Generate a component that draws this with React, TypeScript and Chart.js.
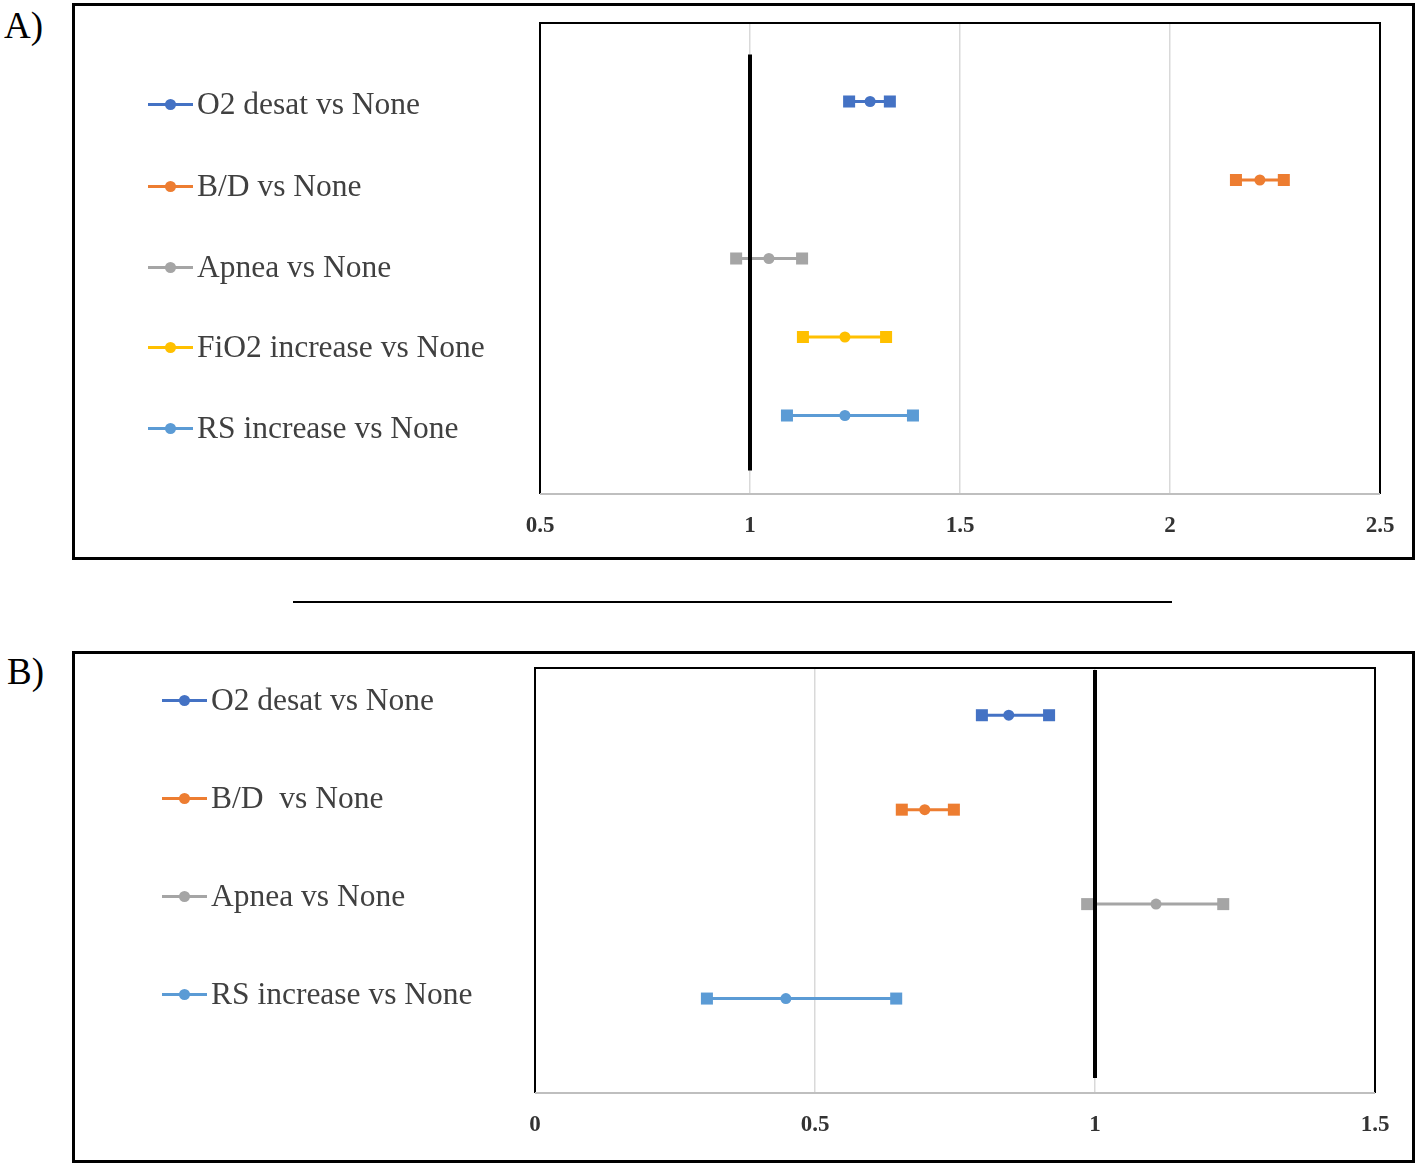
import React, { useEffect, useRef } from "react";
import { Chart, registerables } from "chart.js";
Chart.register(...registerables);

// ---------- Panel A data ----------
const seriesA = ["O2 desat vs None", "B/D vs None", "Apnea vs None", "FiO2 increase vs None", "RS increase vs None"];
const colorsA = ["#4472C4", "#ED7D31", "#A5A5A5", "#FFC000", "#5B9BD5"];
const lowA = [1.236, 2.157, 0.967, 1.126, 1.088];
const estA = [1.286, 2.214, 1.045, 1.226, 1.226];
const highA = [1.333, 2.271, 1.124, 1.324, 1.388];
const rowA = [5, 4, 3, 2, 1];
const ticksA = [0.5, 1, 1.5, 2, 2.5];
const refLineA = [0.3, 5.6];

// ---------- Panel B data ----------
const seriesB = ["O2 desat vs None", "B/D  vs None", "Apnea vs None", "RS increase vs None"];
const colorsB = ["#4472C4", "#ED7D31", "#A5A5A5", "#5B9BD5"];
const lowB = [0.798, 0.655, 0.986, 0.307];
const estB = [0.846, 0.696, 1.109, 0.448];
const highB = [0.918, 0.748, 1.229, 0.645];
const rowB = [4, 3, 2, 1];
const ticksB = [0, 0.5, 1, 1.5];
const refLineB = [0.16, 4.48];

const framePlugin = {
  id: "frame",
  afterDraw(chart: any) {
    const { ctx, chartArea: a } = chart;
    ctx.save();
    ctx.lineWidth = 2;
    ctx.strokeStyle = "#000";
    ctx.beginPath();
    ctx.moveTo(a.left, a.bottom);
    ctx.lineTo(a.left, a.top);
    ctx.lineTo(a.right, a.top);
    ctx.lineTo(a.right, a.bottom);
    ctx.stroke();
    ctx.strokeStyle = "#bfbfbf";
    ctx.beginPath();
    ctx.moveTo(a.left, a.bottom);
    ctx.lineTo(a.right, a.bottom);
    ctx.stroke();
    ctx.restore();
  },
};

type PanelProps = {
  left: number;
  top: number;
  width: number;
  height: number;
  padding: { left: number; right: number; top: number; bottom: number };
  series: string[];
  colors: string[];
  low: number[];
  est: number[];
  high: number[];
  rows: number[];
  ticks: number[];
  refLine: number[];
  yMax: number;
};

function Panel(p: PanelProps) {
  const ref = useRef<HTMLCanvasElement | null>(null);
  useEffect(() => {
    if (!ref.current) return;
    const datasets: any[] = [
      {
        label: "ref",
        data: [
          { x: 1, y: p.refLine[0] },
          { x: 1, y: p.refLine[1] },
        ],
        showLine: true,
        borderColor: "#000",
        borderWidth: 4,
        pointRadius: 0,
      },
    ];
    p.series.forEach((s, i) => {
      datasets.push({
        label: s,
        data: [
          { x: p.low[i], y: p.rows[i] },
          { x: p.est[i], y: p.rows[i] },
          { x: p.high[i], y: p.rows[i] },
        ],
        showLine: true,
        borderColor: p.colors[i],
        backgroundColor: p.colors[i],
        borderWidth: 3,
        pointStyle: ["rect", "circle", "rect"],
        pointRadius: [8.5, 5.5, 8.5],
        pointBorderWidth: 0,
      });
    });
    const chart = new Chart(ref.current, {
      type: "scatter",
      data: { datasets },
      plugins: [framePlugin],
      options: {
        animation: false,
        responsive: false,
        layout: { padding: p.padding },
        plugins: { legend: { display: false }, tooltip: { enabled: false } },
        scales: {
          x: {
            type: "linear",
            min: p.ticks[0],
            max: p.ticks[p.ticks.length - 1],
            afterBuildTicks: (scale: any) => {
              scale.ticks = p.ticks.map((v) => ({ value: v }));
            },
            afterFit: (scale: any) => {
              scale.height = 40;
            },
            grid: { color: "#d9d9d9", lineWidth: 1.5, drawTicks: false },
            border: { display: false },
            ticks: {
              padding: 18,
              color: "#333",
              font: { family: "'Liberation Serif', 'Times New Roman', serif", size: 23, weight: "bold" },
              callback: (v: any) => String(v),
            },
          },
          y: {
            type: "linear",
            min: 0,
            max: p.yMax,
            display: false,
          },
        },
      } as any,
    });
    return () => chart.destroy();
  }, []);
  return (
    <canvas
      ref={ref}
      width={p.width}
      height={p.height}
      style={{ position: "absolute", left: p.left, top: p.top, width: p.width, height: p.height }}
    />
  );
}

function Legend({ items, colors, left, ys }: { items: string[]; colors: string[]; left: number; ys: number[] }) {
  return (
    <>
      {items.map((t, i) => (
        <div
          key={i}
          style={{
            position: "absolute",
            left,
            top: ys[i] - 20,
            height: 40,
            display: "flex",
            alignItems: "center",
            whiteSpace: "pre",
            fontFamily: "'Liberation Serif', 'Times New Roman', serif",
            fontSize: 31.5,
            color: "#404040",
          }}
        >
          <div style={{ position: "relative", width: 45, height: 3, background: colors[i], marginRight: 4 }}>
            <div
              style={{
                position: "absolute",
                left: 17,
                top: -4,
                width: 11,
                height: 11,
                borderRadius: "50%",
                background: colors[i],
              }}
            />
          </div>
          <span>{t}</span>
        </div>
      ))}
    </>
  );
}

export default function App() {
  const serif = "'Liberation Serif', 'Times New Roman', serif";
  return (
    <div style={{ position: "absolute", left: 0, top: 0, width: 1418, height: 1166, background: "#fff", overflow: "hidden" }}>
      <div style={{ position: "absolute", left: 4, top: 4, fontFamily: serif, fontSize: 37, color: "#000", lineHeight: "44px" }}>A)</div>
      <div style={{ position: "absolute", left: 7, top: 650, fontFamily: serif, fontSize: 37, color: "#000", lineHeight: "44px" }}>B)</div>
      <div style={{ position: "absolute", left: 72, top: 3, width: 1337, height: 551, border: "3px solid #000" }} />
      <div style={{ position: "absolute", left: 72, top: 651, width: 1337, height: 506, border: "3px solid #000" }} />
      <div style={{ position: "absolute", left: 293, top: 601, width: 879, height: 2, background: "#000" }} />
      <Panel
        left={73}
        top={4}
        width={1341}
        height={555}
        padding={{ left: 467, right: 34, top: 19, bottom: 25 }}
        series={seriesA}
        colors={colorsA}
        low={lowA}
        est={estA}
        high={highA}
        rows={rowA}
        ticks={ticksA}
        refLine={refLineA}
        yMax={6}
      />
      <Panel
        left={73}
        top={652}
        width={1341}
        height={510}
        padding={{ left: 462, right: 39, top: 16, bottom: 29 }}
        series={seriesB}
        colors={colorsB}
        low={lowB}
        est={estB}
        high={highB}
        rows={rowB}
        ticks={ticksB}
        refLine={refLineB}
        yMax={4.5}
      />
      <Legend items={seriesA} colors={colorsA} left={148} ys={[104, 186, 267, 347, 428]} />
      <Legend items={seriesB} colors={colorsB} left={162} ys={[700, 798, 896, 994]} />
    </div>
  );
}
